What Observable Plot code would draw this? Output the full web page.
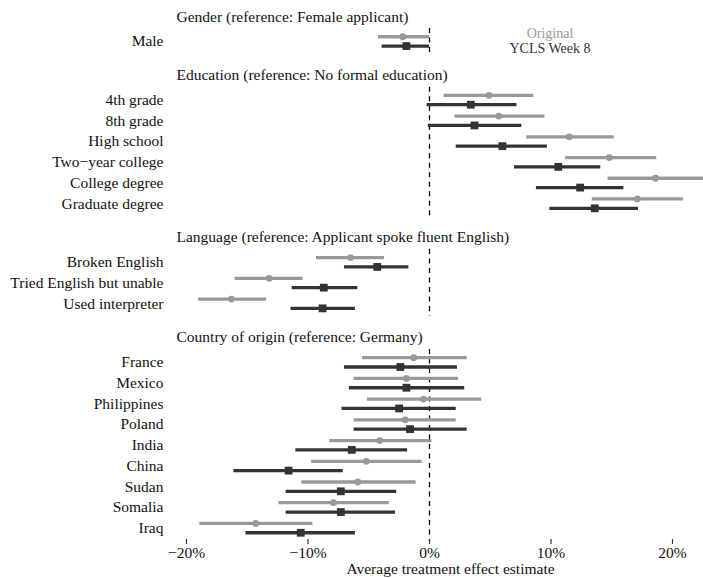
<!DOCTYPE html>
<html>
<head>
<meta charset="utf-8">
<script src="https://cdn.jsdelivr.net/npm/d3@7"></script>
<script src="https://cdn.jsdelivr.net/npm/@observablehq/plot@0.6"></script>
<style>
  body { margin: 0; background: #fff; }
  #chart { position: relative; width: 703px; height: 578px; overflow: hidden; }
  #chart svg, #chart svg text { font-family: 'Liberation Serif', 'DejaVu Serif', 'Times New Roman', serif !important; }
  #legend { position: absolute; left: 480px; top: 26px; width: 140px; text-align: center;
            font-family: 'Liberation Serif', 'DejaVu Serif', 'Times New Roman', serif; font-size: 14px; line-height: 15px; }
</style>
</head>
<body>
<div id="chart"></div>
<script>
// ---- data ----
const groupNames = [
  "Gender (reference: Female applicant)",
  "Education (reference: No formal education)",
  "Language (reference: Applicant spoke fluent English)",
  "Country of origin (reference: Germany)"
];
const groupSizes = [1, 6, 3, 9];
const terms = ["Male", "4th grade", "8th grade", "High school", "Two\u2212year college", "College degree",
  "Graduate degree", "Broken English", "Tried English but unable", "Used interpreter",
  "France", "Mexico", "Philippines", "Poland", "India", "China", "Sudan", "Somalia", "Iraq"];
const seriesNames = ["Original", "YCLS Week 8"];
const origEst = [-2.2, 4.9, 5.7, 11.5, 14.8, 18.6, 17.1, -6.5, -13.2, -16.3, -1.3, -1.9, -0.5, -2.0, -4.1, -5.2, -5.9, -7.9, -14.3];
const origLo  = [-4.2, 1.2, 2.1, 8.0, 11.2, 14.7, 13.4, -9.3, -16.0, -19.0, -5.5, -6.2, -5.1, -6.2, -8.2, -9.7, -10.5, -12.4, -18.9];
const origHi  = [0.0, 8.6, 9.5, 15.2, 18.7, 22.6, 20.9, -3.7, -10.4, -13.4, 3.1, 2.4, 4.3, 2.2, 0.2, -0.6, -1.1, -3.3, -9.6];
const yclsEst = [-1.9, 3.4, 3.7, 6.0, 10.6, 12.4, 13.6, -4.3, -8.7, -8.8, -2.4, -1.9, -2.5, -1.6, -6.4, -11.6, -7.3, -7.3, -10.6];
const yclsLo  = [-3.9, -0.2, -0.1, 2.2, 7.0, 8.8, 9.9, -7.0, -11.3, -11.4, -7.0, -6.6, -7.2, -6.2, -11.0, -16.1, -11.8, -11.8, -15.1];
const yclsHi  = [0.0, 7.2, 7.6, 9.7, 14.1, 16.0, 17.2, -1.7, -5.9, -6.1, 2.3, 2.9, 2.2, 3.1, -1.8, -7.1, -2.7, -2.8, -6.1];
const xTicks = [-20, -10, 0, 10, 20];
const xLabel = "Average treatment effect estimate";

// ---- layout (row slots computed from group structure) ----
const GAP = 1.83, DODGE = 0.225;
const rows = [];
const groups = [];
let idx = 0;
groupSizes.forEach((n, g) => {
  const first = idx + g * GAP;
  for (let k = 0; k < n; k++) {
    const i = idx + k;
    rows.push({term: terms[i], pos: i + g * GAP,
      oEst: origEst[i], oLo: origLo[i], oHi: origHi[i],
      yEst: yclsEst[i], yLo: yclsLo[i], yHi: yclsHi[i]});
  }
  idx += n;
  groups.push({name: groupNames[g], first, last: idx - 1 + g * GAP});
});
const lastPos = rows[rows.length - 1].pos;

const FONT = "'Liberation Serif', 'DejaVu Serif', 'Times New Roman', serif";
const origColor = "#999999", yclsColor = "#333333", txt = "#111111";
const fmt = d => (d < 0 ? "\u2212" : "") + Math.abs(d) + "%";

const chart = Plot.plot({
  width: 703,
  height: 578,
  marginLeft: 186,
  marginRight: 31,
  marginTop: 20,
  marginBottom: 39,
  style: {fontFamily: FONT, fontSize: "15.5px", color: txt, background: "#fff"},
  x: {domain: [-20, 20]},
  y: {domain: [0, lastPos], range: [40.9, 527.6], axis: null},
  marks: [
    Plot.ruleX(groups, {x: () => 0, y1: d => d.first - 0.62, y2: d => d.last + 0.62,
      stroke: "#000", strokeWidth: 1.3, strokeDasharray: "5,4.5"}),
    Plot.ruleY(rows, {y: d => d.pos - DODGE, x1: "oLo", x2: "oHi", stroke: origColor, strokeWidth: 3.3}),
    Plot.ruleY(rows, {y: d => d.pos + DODGE, x1: "yLo", x2: "yHi", stroke: yclsColor, strokeWidth: 3.3}),
    Plot.dot(rows, {x: "oEst", y: d => d.pos - DODGE, r: 3.4, fill: origColor, stroke: null}),
    Plot.dot(rows, {x: "yEst", y: d => d.pos + DODGE, r: 4.4, symbol: "square", fill: yclsColor, stroke: null}),
    Plot.text(rows, {y: "pos", text: "term", frameAnchor: "left", textAnchor: "end", dx: -23,
      fontSize: 15.5, fill: txt}),
    Plot.text(groups, {y: d => d.first - 1.2, text: "name", frameAnchor: "left", textAnchor: "start", dx: -10,
      fontSize: 15.5, fill: txt}),
    Plot.axisX({ticks: xTicks, tickFormat: fmt, tickSize: 5, tickPadding: 2, fontSize: 15.5,
      stroke: "#333", strokeWidth: 1.2, fill: txt, label: null}),
    Plot.text([xLabel], {frameAnchor: "bottom", dy: 34, dx: 21, fontSize: 15.5, fill: txt})
  ]
});

const host = document.getElementById("chart");
host.appendChild(chart);
const legend = document.createElement("div");
legend.id = "legend";
legend.innerHTML = `<div style="color:${origColor}">${seriesNames[0]}</div><div style="color:${yclsColor}">${seriesNames[1]}</div>`;
host.appendChild(legend);
</script>
</body>
</html>
